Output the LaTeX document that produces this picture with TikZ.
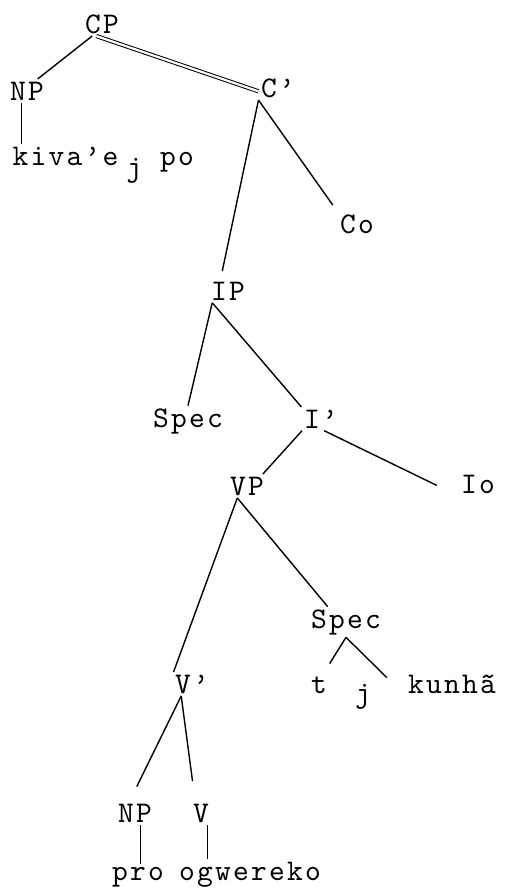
\documentclass[tikz,border=0pt]{standalone}
\usepackage{fontspec}
\usepackage{tikz}
\newfontfamily\twfont{lmmono10-regular.otf}[LetterSpace=7.5]
\usetikzlibrary{calc}

\begin{document}
\begin{tikzpicture}[x=0.5pt,y=-0.5pt,line width=0.7pt,
                    font=\twfont\fontsize{15}{18}\selectfont]
  \tikzstyle{cat}=[inner sep=1pt,anchor=base]
  \tikzstyle{word}=[inner sep=1pt,anchor=base]
  \tikzstyle{bar}=[double,double distance=1.1pt,line width=0.5pt]
  \useasboundingbox (0,0) rectangle (506,896);

  \node[cat] (CP)    at (102,33)  {CP};
  \node[cat] (NP)    at (27,100)  {NP};
  \node[word,anchor=base west] (kiva) at (10,165)
        {kiva’e\hspace{4pt}\raisebox{-5.5pt}{j} po};
  \node[cat] (Cbar)  at (278,97)  {C’};
  \node[cat] (Co)    at (357,233) {Co};
  \node[cat] (IP)    at (228,300) {IP};
  \node[cat] (Spec)  at (188,427) {Spec};
  \node[cat] (Ibar)  at (321,428) {I’};
  \node[cat] (VP)    at (247,495) {VP};
  \node[cat] (Io)    at (478,493) {Io};
  \node[cat] (Vbar)  at (192,693) {V’};
  \node[cat] (SpecB) at (346,628) {Spec};
  \node[word] (t)     at (319,693) {t};
  \node[word] (tj)    at (363,702) {j};
  \node[word] (kunha) at (452,693) {kunhã};
  \node[cat] (NPb)   at (135,822) {NP};
  \node[cat] (Vb)    at (201,822) {V};
  \node[word] (pro)   at (138,880) {pro};
  \node[word] (ogw)   at (250,880) {ogwereko};

  \draw (CP.231) -- (NP.48);
  \draw[bar] (CP.245) -- (Cbar.190);
  \draw (NP.246) -- (NP.246 |- kiva.north);
  \draw[shorten >=4pt] (Cbar.212) -- (IP.122);
  \draw[shorten >=4pt] (Cbar.212) -- (Co.north west);
  \draw (IP.217) -- (Spec.north);
  \draw (IP.217) -- (Ibar.north west);
  \draw (Ibar.212) -- (VP.37);
  \draw[shorten >=12pt] (Ibar.285) -- (Io.south west);
  \draw (VP.231) -- (Vbar.147);
  \draw (VP.231) -- (SpecB.140);
  \draw[shorten >=6pt] (SpecB.south) -- (t.69);
  \draw[shorten >=13pt] (SpecB.south) -- (kunha.south west);
  \draw[shorten >=8pt] (Vbar.228) -- (NPb.114);
  \draw[shorten >=10pt] (Vbar.228) -- (Vb.116);
  \draw (NPb.294) -- (NPb.294 |- pro.north);
  \draw (Vb.298) -- (Vb.298 |- ogw.north);
\end{tikzpicture}
\end{document}
